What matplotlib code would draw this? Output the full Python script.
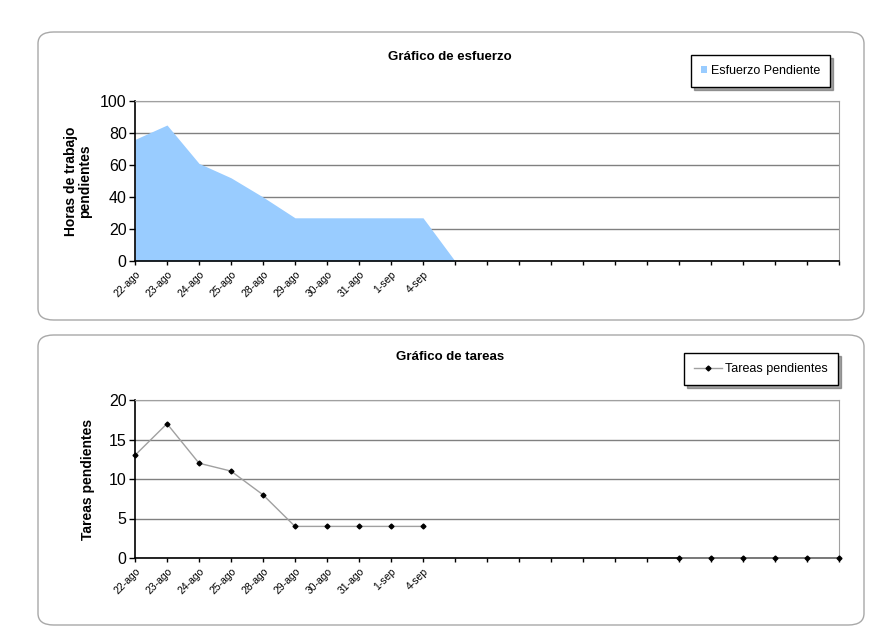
import numpy as np
import matplotlib
matplotlib.use("Agg")
import matplotlib.pyplot as plt
from matplotlib.patches import FancyBboxPatch
from matplotlib import font_manager

plt.rcParams['font.family'] = ['Liberation Sans', 'DejaVu Sans']

# fuente estrecha para los titulos de eje, si existe
nombres = {f.name for f in font_manager.fontManager.ttflist}
estrecha = ['Liberation Sans Narrow', 'Liberation Sans'] if 'Liberation Sans Narrow' in nombres else ['Liberation Sans']

# datos
fechas = ['22-ago', '23-ago', '24-ago', '25-ago', '28-ago', '29-ago',
          '30-ago', '31-ago', '1-sep', '4-sep'] + [''] * 13
esfuerzo = [76, 85, 61, 52, 40, 27, 27, 27, 27, 27, 0] + [np.nan] * 12
tareas = [13, 17, 12, 11, 8, 4, 4, 4, 4, 4] + [np.nan] * 7 + [0] * 6

x = np.arange(len(fechas))
esf = np.array(esfuerzo, dtype=float)
tar = np.array(tareas, dtype=float)

fig = plt.figure(figsize=(8.75, 6.42), dpi=100)
W, H = 875, 642

def box(x0, y0, x1, y1):
    # panel redondeado, coordenadas en pixeles
    p = FancyBboxPatch((x0 / W, 1 - y1 / H), (x1 - x0) / W, (y1 - y0) / H,
                       boxstyle="round,pad=0,rounding_size=0.018",
                       transform=fig.transFigure, facecolor='white',
                       edgecolor='#a8a8a8', linewidth=1.0, zorder=-5)
    fig.patches.append(p)

box(38, 32, 864, 320)
box(38, 335, 864, 625)

def axes_px(x0, y0, x1, y1):
    return fig.add_axes([x0 / W, 1 - y1 / H, (x1 - x0) / W, (y1 - y0) / H])

def style(ax, ymax, step):
    ax.set_xlim(0, len(fechas) - 1)
    ax.set_ylim(0, ymax)
    ax.set_yticks(np.arange(0, ymax + 1, step))
    ax.set_xticks(x)
    ax.set_xticklabels(fechas, rotation=45, ha='right', rotation_mode='anchor',
                       fontsize=7.5, family=estrecha)
    ax.tick_params(axis='y', labelsize=11.5, length=4, width=1, pad=2)
    ax.tick_params(axis='x', length=3, width=1, pad=3)
    ax.grid(axis='y', color='#808080', linewidth=1)
    ax.set_axisbelow(True)
    for s in ['top', 'right']:
        ax.spines[s].set_color('#a0a0a0')
    for s in ['left', 'bottom']:
        ax.spines[s].set_color('black')
        ax.spines[s].set_linewidth(1.2)
    ax.set_facecolor('white')

# grafico de esfuerzo
ax1 = axes_px(135, 101, 839, 261)
ok = np.isfinite(esf)
ax1.fill_between(x[ok], 0, esf[ok], color='#99CCFF', linewidth=0,
                 label='Esfuerzo Pendiente', zorder=2)
style(ax1, 100, 20)
ax1.set_ylabel('Horas de trabajo\npendientes', fontsize=10, fontweight='bold',
               family=estrecha, labelpad=6, linespacing=1.0)
fig.text(450 / W, 1 - 57 / H, 'Gráfico de esfuerzo', ha='center', va='center',
         fontsize=9.5, fontweight='bold')
ax1.legend(loc='upper right', bbox_to_anchor=(830 / W, 1 - 55 / H),
           bbox_transform=fig.transFigure, frameon=True,
           fancybox=False, shadow=True, edgecolor='black', handlelength=0.5,
           handleheight=0.5, handletextpad=0.3, borderpad=0.8,
           borderaxespad=0, prop={'family': estrecha, 'size': 9})

# grafico de tareas
ax2 = axes_px(135, 400, 839, 558)
ax2.plot(x, tar, color='#a0a0a0', linewidth=1, marker='D', markersize=2.5,
         markerfacecolor='black', markeredgecolor='black',
         label='Tareas pendientes', zorder=3, clip_on=False)
style(ax2, 20, 5)
ax2.set_ylabel('Tareas pendientes', fontsize=10, fontweight='bold',
               family=estrecha, labelpad=10)
fig.text(450 / W, 1 - 357 / H, 'Gráfico de tareas', ha='center', va='center',
         fontsize=9.5, fontweight='bold')
ax2.legend(loc='upper right', bbox_to_anchor=(838 / W, 1 - 353 / H),
           bbox_transform=fig.transFigure, frameon=True,
           fancybox=False, shadow=True, edgecolor='black', handlelength=2.2,
           handletextpad=0.3, borderpad=0.8, borderaxespad=0,
           prop={'family': estrecha, 'size': 9})

fig.savefig('out.png', dpi=100, facecolor='white')
